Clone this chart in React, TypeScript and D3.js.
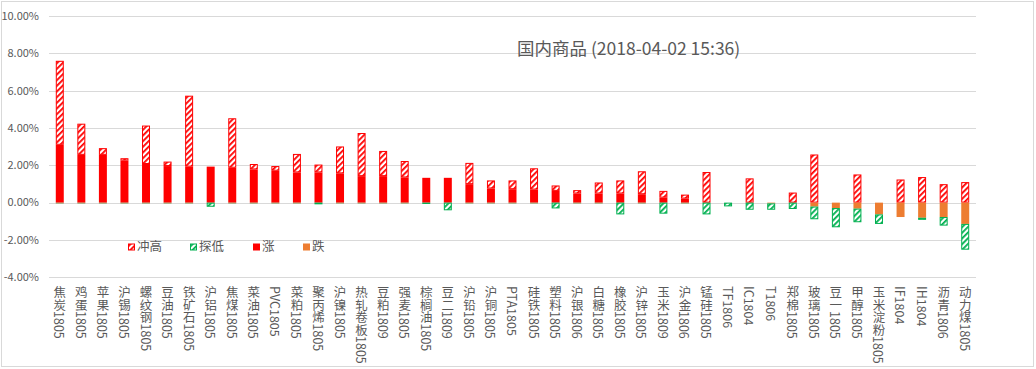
import React from "react";
import * as d3 from "d3";

const categories = [
  "焦炭1805", "鸡蛋1805", "苹果1805", "沪锡1805", "螺纹钢1805", "豆油1805", "铁矿石1805", "沪铝1805",
  "焦煤1805", "菜油1805", "PVC1805", "菜粕1805", "聚丙烯1805", "沪镍1805", "热轧卷板1805", "豆粕1809",
  "强麦1805", "棕榈油1805", "豆二1809", "沪铅1805", "沪铜1805", "PTA1805", "硅铁1805", "塑料1805",
  "沪银1806", "白糖1805", "橡胶1805", "沪锌1805", "玉米1809", "沪金1806", "锰硅1805", "TF1806",
  "IC1804", "T1806", "郑棉1805", "玻璃1805", "豆一1805", "甲醇1805", "玉米淀粉1805", "IF1804",
  "IH1804", "沥青1806", "动力煤1805",
];

// 涨 (close change, positive part)
const rise = [
  3.10, 2.56, 2.56, 2.25, 2.07, 1.96, 1.93, 1.93, 1.87, 1.78, 1.71, 1.62, 1.62, 1.57, 1.42, 1.42,
  1.35, 1.33, 1.33, 0.99, 0.76, 0.72, 0.70, 0.63, 0.49, 0.49, 0.49, 0.45, 0.27, 0.22, 0, 0,
  0, 0, 0, 0, 0, 0, 0, 0, 0, 0, 0,
];
// 冲高 (extra above 涨)
const high = [
  4.50, 1.67, 0.36, 0.13, 2.06, 0.24, 3.80, 0, 2.65, 0.29, 0.25, 0.99, 0.42, 1.44, 2.31, 1.35,
  0.88, 0, 0, 1.14, 0.43, 0.47, 1.14, 0.29, 0.18, 0.59, 0.70, 1.23, 0.36, 0.21, 1.64, 0,
  1.30, 0, 0.54, 2.58, 0, 1.51, 0, 1.24, 1.37, 0.99, 1.10,
];
// 跌 (close change, negative part)
const fall = [
  0, 0, 0, 0, 0, 0, 0, 0, 0, 0, 0, 0, 0, 0, 0, 0,
  0, 0, 0, 0, 0, 0, 0, 0, 0, 0, 0, 0, 0, 0, 0, 0,
  0, -0.04, 0, -0.21, -0.29, -0.32, -0.63, -0.77, -0.81, -0.77, -1.14,
];
// 探低 (extra below 跌)
const low = [
  0, 0, 0, 0, 0, 0, 0, -0.22, 0, 0, 0, 0, -0.09, 0, 0, 0,
  0, -0.07, -0.41, 0, 0, 0, 0, -0.31, 0, 0, -0.63, 0, -0.59, 0, -0.63, -0.20,
  -0.38, -0.34, -0.34, -0.68, -1.03, -0.73, -0.51, 0, -0.11, -0.46, -1.38,
];

const yTicks = [-4, -2, 0, 2, 4, 6, 8, 10];
const legendItems = ["冲高", "探低", "涨", "跌"];
const title = "国内商品 (2018-04-02 15:36)";

const W = 1036;
const H = 369;
const RED = "#FF0000";
const GREEN = "#00B050";
const ORANGE = "#ED7D31";
const TEXT = "#595959";
const GRID = "#D9D9D9";
const FONT = "'Noto Sans CJK SC', 'Noto Sans', sans-serif";

export default function App() {
  const x = d3
    .scaleBand<string>()
    .domain(categories)
    .range([49, 976])
    .paddingInner(0.63)
    .paddingOuter(0.315);
  const y = d3.scaleLinear().domain([-4, 10]).range([277.3, 16]);
  const bw = x.bandwidth();
  const y0 = y(0);

  const legendX = [128, 190, 253, 303];
  const legendTextX = [137, 199, 262, 312];
  const legendY = 247;

  const marker = (i: number, lx: number) => {
    const s = 7;
    const top = legendY - s / 2;
    if (i === 0)
      return <rect x={lx + 0.5} y={top + 0.5} width={s - 1} height={s - 1} fill="url(#hatchRed)" stroke={RED} strokeWidth={1} />;
    if (i === 1)
      return <rect x={lx + 0.5} y={top + 0.5} width={s - 1} height={s - 1} fill="url(#hatchGreen)" stroke={GREEN} strokeWidth={1} />;
    if (i === 2) return <rect x={lx} y={top} width={s} height={s} fill={RED} />;
    return <rect x={lx} y={top} width={s} height={s} fill={ORANGE} />;
  };

  return (
    <div style={{ position: "absolute", left: 0, top: 0 }}>
      <svg width={W} height={H} style={{ display: "block", background: "#fff" }}>
        <defs>
          <pattern id="hatchRed" patternUnits="userSpaceOnUse" width={4} height={4} patternTransform="rotate(45)">
            <rect x={0} y={0} width={4} height={4} fill="#fff" />
            <rect x={0} y={0} width={1.8} height={4} fill={RED} />
          </pattern>
          <pattern id="hatchGreen" patternUnits="userSpaceOnUse" width={4} height={4} patternTransform="rotate(45)">
            <rect x={0} y={0} width={4} height={4} fill="#fff" />
            <rect x={0} y={0} width={1.8} height={4} fill={GREEN} />
          </pattern>
        </defs>
        <rect x={1.5} y={1.5} width={W - 4} height={H - 4} fill="#fff" stroke={GRID} strokeWidth={1} />

        {yTicks.map((t) => (
          <g key={t}>
            <line x1={49} x2={976} y1={Math.round(y(t)) + 0.5} y2={Math.round(y(t)) + 0.5} stroke={GRID} strokeWidth={1} />
            <text x={39} y={y(t)} dy="0.35em" textAnchor="end" fontSize={11} fill={TEXT} fontFamily={FONT}>
              {t.toFixed(2) + "%"}
            </text>
          </g>
        ))}

        <text x={517} y={55} fontSize={17.5} fill={TEXT} fontFamily={FONT}>
          {title}
        </text>

        {categories.map((c, i) => {
          const bx = x(c) as number;
          const r = rise[i];
          const h = high[i];
          const f = fall[i];
          const l = low[i];
          return (
            <g key={c}>
              {r > 0 && <rect x={bx} y={y(r)} width={bw} height={y0 - y(r)} fill={RED} />}
              {h > 0 && (
                <rect x={bx + 0.5} y={y(r + h) + 0.5} width={bw - 1} height={Math.max(0, y(r) - y(r + h) - 1)} fill="url(#hatchRed)" stroke={RED} strokeWidth={1} />
              )}
              {f < 0 && <rect x={bx} y={y0} width={bw} height={y(f) - y0} fill={ORANGE} />}
              {l < 0 && (
                <rect x={bx + 0.5} y={y(f) + 0.5} width={bw - 1} height={Math.max(0, y(f + l) - y(f) - 1)} fill="url(#hatchGreen)" stroke={GREEN} strokeWidth={1} />
              )}
              {l === 0 && f === 0 && (
                <line x1={bx} x2={bx + bw} y1={y0 + 0.5} y2={y0 + 0.5} stroke="#7A8A3A" strokeWidth={1} opacity={0.7} />
              )}
            </g>
          );
        })}

        {categories.map((c) => (
          <text
            key={"l" + c}
            x={(x(c) as number) + bw / 2}
            y={286}
            fontSize={12.5}
            fill={TEXT}
            fontFamily={FONT}
            style={{ writingMode: "vertical-rl" as any }}
          >
            {c}
          </text>
        ))}

        {legendItems.map((name, i) => (
          <g key={name}>
            {marker(i, legendX[i])}
            <text x={legendTextX[i]} y={legendY} dy="0.35em" fontSize={12.5} fill={TEXT} fontFamily={FONT}>
              {name}
            </text>
          </g>
        ))}
      </svg>
    </div>
  );
}
